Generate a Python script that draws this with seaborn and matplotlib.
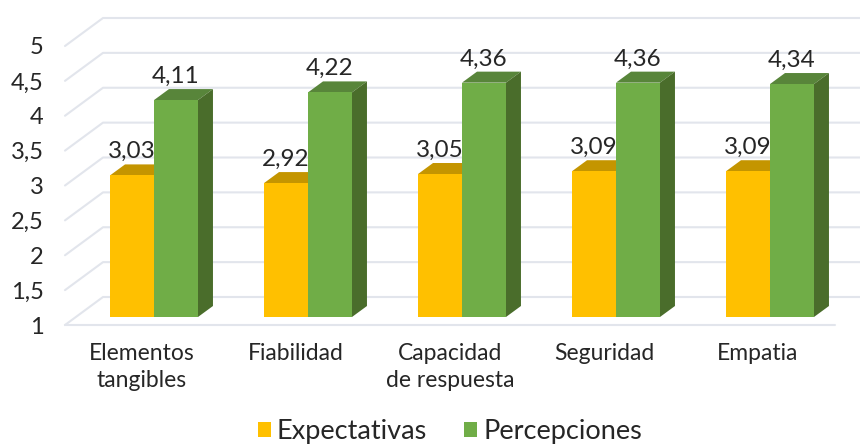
import numpy as np
import pandas as pd
import seaborn as sns
import matplotlib.pyplot as plt
from matplotlib.patches import Polygon
from matplotlib.transforms import ScaledTranslation

categorias = ["Elementos\ntangibles", "Fiabilidad", "Capacidad\nde respuesta", "Seguridad", "Empatia"]
expectativas = [3.03, 2.92, 3.05, 3.09, 3.09]
percepciones = [4.11, 4.22, 4.36, 4.36, 4.34]
y_ticks = [1, 1.5, 2, 2.5, 3, 3.5, 4, 4.5, 5]

W, H = 860, 446
GRID = "#e2e5ec"
TXT = "#262626"

sns.set_theme(style="white")
plt.rcParams["font.family"] = ["Lato", "DejaVu Sans"]

df = pd.DataFrame({
    "cat": categorias * 2,
    "valor": expectativas + percepciones,
    "serie": ["Expectativas"] * 5 + ["Percepciones"] * 5,
})

fig = plt.figure(figsize=(W / 100, H / 100), dpi=100)
# axes = plane of the bar fronts, in pixels of the picture
left, right, y1, y5 = 77, 847, 317, 38
ax = fig.add_axes([left / W, 1 - y1 / H, (right - left) / W, (y1 - y5) / H])
ax.patch.set_alpha(0)

sns.barplot(data=df, x="cat", y="valor", hue="serie", ax=ax, width=0.571, gap=0,
            palette=["#FFC000", "#70AD47"], saturation=1, errorbar=None, linewidth=0)
ax.set_xlim(-0.5, 4.5)
ax.set_ylim(1, 5)
ax.set_xlabel("")
ax.set_ylabel("")
sns.despine(ax=ax, left=True, bottom=True)

ux = (right - left) / 5  # px per category
uy = (y1 - y5) / 4  # px per value

# walls: front edge, then diagonal to the back wall, then along the wall
for v in y_ticks:
    fx, fy = -0.5 - 12 / ux, v - 8 / uy
    bx, by = -0.5 + 26 / ux, v + 20 / uy
    ax.plot([fx, bx, 4.5 + 20 / ux], [fy, by, by], color=GRID, lw=1.5, clip_on=False, zorder=0)
ax.plot([-0.5 - 12 / ux, 4.5 - 12 / ux], [1 - 8 / uy] * 2, color=GRID, lw=1.5, clip_on=False, zorder=0)

# depth of the bars
dx, dy = 15 / ux, 11 / uy
tonos = {0: ("#C49500", "#987300"), 1: ("#58853A", "#4A6D2B")}
for i, cont in enumerate(ax.containers):
    for bar in cont:
        x0, x1 = bar.get_x(), bar.get_x() + bar.get_width()
        top = bar.get_height()
        bar.set_zorder(2 + i)
        ax.add_patch(Polygon([(x0, top), (x1, top), (x1 + dx, top + dy), (x0 + dx, top + dy)],
                             fc=tonos[i][0], lw=0, clip_on=False, zorder=1 + i))
        ax.add_patch(Polygon([(x1, 1), (x1 + dx, 1 + dy), (x1 + dx, top + dy), (x1, top)],
                             fc=tonos[i][1], lw=0, clip_on=False, zorder=1 + i))
    labels = ax.bar_label(cont, labels=[f"{b.get_height():.2f}".replace(".", ",") for b in cont],
                          padding=9.5, fontsize=17.5, color=TXT)
    for t in labels:
        t.set_zorder(6)

# ticks sit on the front plane, so shift them off the bar plane
ax.set_yticks(y_ticks)
ax.set_yticklabels([str(v).replace(".", ",") for v in y_ticks])
ax.tick_params(axis="y", length=0, pad=24, labelsize=17, labelcolor=TXT)
ax.tick_params(axis="x", length=0, pad=19, labelsize=16.5, labelcolor=TXT)
off_y = ScaledTranslation(0, -8 / 100, fig.dpi_scale_trans)
off_x = ScaledTranslation(-12 / 100, 0, fig.dpi_scale_trans)
for t in ax.get_yticklabels():
    t.set_transform(t.get_transform() + off_y)
for t in ax.get_xticklabels():
    t.set_transform(t.get_transform() + off_x)
    t.set_linespacing(1.35)

sns.move_legend(ax, "lower center", bbox_to_anchor=(450 / W, 0.004), bbox_transform=fig.transFigure,
                ncol=2, frameon=False, title=None, fontsize=19.5, handlelength=0.48, handleheight=0.48,
                handletextpad=0.22, columnspacing=1.37, labelcolor=TXT, borderpad=0, borderaxespad=0)

fig.savefig("out.png", dpi=100)
